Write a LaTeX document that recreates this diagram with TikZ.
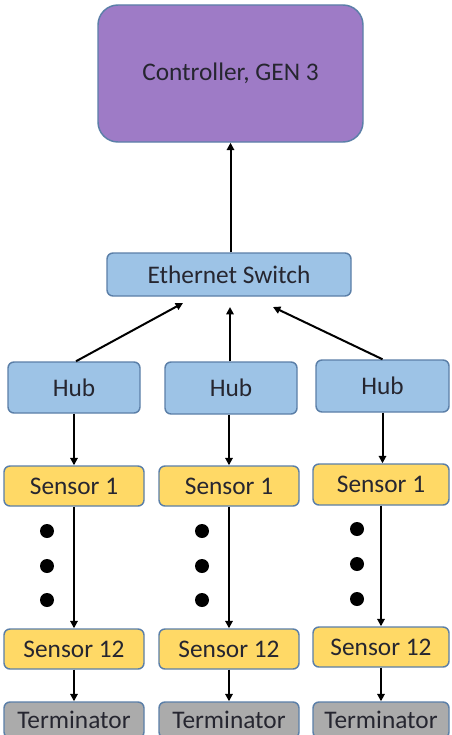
\documentclass[tikz,border=0pt]{standalone}
\usepackage{fontspec}
\setmainfont{Carlito}
\usetikzlibrary{arrows.meta}
\definecolor{purp}{HTML}{9E7BC6}
\definecolor{bluef}{HTML}{9DC3E6}
\definecolor{yelf}{HTML}{FFD966}
\definecolor{grayf}{HTML}{ABABAB}
\definecolor{edgec}{HTML}{5B7FA8}
\definecolor{txt}{HTML}{262630}
\tikzset{
  box/.style 2 args={draw=edgec, line width=1.1pt, rounded corners=4.5pt,
    minimum width=#1*0.75pt, minimum height=#2*0.75pt, inner sep=0pt,
    text=txt, font=\fontsize{19}{21}\selectfont},
  ctrlbox/.style={box={265}{137}, fill=purp, rounded corners=15pt},
  bluebox/.style 2 args={box={#1}{#2}, fill=bluef},
  yelbox/.style 2 args={box={#1}{#2}, fill=yelf},
  termbox/.style 2 args={box={#1}{#2}, fill=grayf},
  arr/.style={line width=1.5pt, -{Triangle[length=5.5pt,width=5.5pt]}},
  dotnode/.style={circle, fill=black, minimum size=10.5pt, inner sep=0pt},
}
\begin{document}
\begin{tikzpicture}[x=0.75pt, y=-0.75pt]
\clip (0,0) rectangle (452,735);
\fill[white] (0,0) rectangle (452,735);
% nodes
\node[ctrlbox] (ctrl) at (230.5,73.5) {Controller, GEN 3};
\node[bluebox={244}{43}] (eth) at (229,274.5) {Ethernet Switch};
\node[bluebox={132}{51}] (hubL) at (74,387.5) {Hub};
\node[bluebox={132}{52}] (hubM) at (231,388) {Hub};
\node[bluebox={133}{52}] (hubR) at (382.5,386) {Hub};
\node[yelbox={140}{40}] (s1L) at (74,486) {Sensor 1};
\node[yelbox={140}{40}] (s1M) at (229,486) {Sensor 1};
\node[yelbox={136}{41}] (s1R) at (381,484.5) {Sensor 1};
\node[yelbox={140}{40}] (s12L) at (74,649) {Sensor 12};
\node[yelbox={140}{40}] (s12M) at (229,649) {Sensor 12};
\node[yelbox={136}{40}] (s12R) at (381,647) {Sensor 12};
\node[termbox={140}{36}] (tL) at (74,720) {Terminator};
\node[termbox={140}{36}] (tM) at (229,720) {Terminator};
\node[termbox={136}{36}] (tR) at (381,720) {Terminator};
% dots
\node[dotnode] (dL1) at (47,531) {};
\node[dotnode] (dL2) at (47,566) {};
\node[dotnode] (dL3) at (47,600) {};
\node[dotnode] (dM1) at (202,531) {};
\node[dotnode] (dM2) at (202,566) {};
\node[dotnode] (dM3) at (202,600) {};
\node[dotnode] (dR1) at (357,529) {};
\node[dotnode] (dR2) at (357,564) {};
\node[dotnode] (dR3) at (357,599) {};
% free ends near the switch
\coordinate (eL) at (183,303);
\coordinate (eM) at (230,307);
\coordinate (eR) at (273,307);
% connectors
\draw[arr] (eth.north -| ctrl.south) -- (ctrl.south);
\draw[arr] ([xshift=1.5pt]hubL.north) -- (eL);
\draw[arr] (hubM.north -| eM) -- (eM);
\draw[arr] (hubR.north) -- (eR);
\draw[arr] (hubL.south) -- (s1L.north);
\draw[arr] (hubM.south -| s1M.north) -- (s1M.north);
\draw[arr] (hubR.south) -- (hubR.south |- s1R.north);
\draw[arr] (s1L.south) -- (s12L.north);
\draw[arr] (s1M.south) -- (s12M.north);
\draw[arr] (s1R.south) -- (s12R.north);
\draw[arr] (s12L.south) -- (tL.north);
\draw[arr] (s12M.south) -- (tM.north);
\draw[arr] (s12R.south) -- (tR.north);
\end{tikzpicture}
\end{document}
